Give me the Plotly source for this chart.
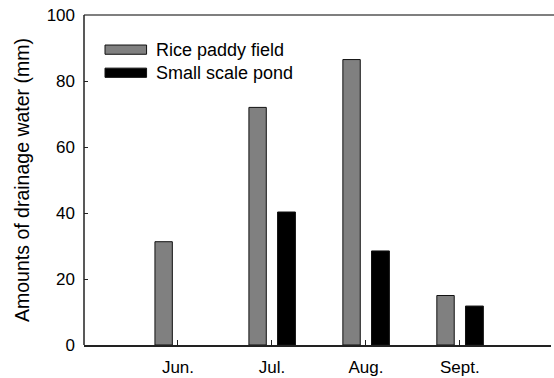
import plotly.graph_objects as go

# Monthly drainage water (mm)
months = ["Jun.", "Jul.", "Aug.", "Sept."]
month_pos = [1, 2, 3, 4]
series_names = ["Rice paddy field", "Small scale pond"]
rice_paddy = [31.3, 72.0, 86.5, 15.0]
small_pond = [0.0, 40.3, 28.5, 11.8]
y_ticks = [0, 20, 40, 60, 80, 100]

fill_colors = ["#808080", "#000000"]
font_family = "Liberation Sans, Arial, sans-serif"


def outline_widths(values):
    # no outline for empty bars so nothing shows on the baseline
    return [0 if v == 0 else 1 for v in values]


fig = go.Figure()
fig.add_trace(go.Bar(
    x=month_pos, y=rice_paddy, name=series_names[0],
    width=0.185, offset=-0.245,
    marker=dict(color=fill_colors[0],
                line=dict(color="#111111", width=outline_widths(rice_paddy))),
    showlegend=False,
))
fig.add_trace(go.Bar(
    x=month_pos, y=small_pond, name=series_names[1],
    width=0.19, offset=0.06,
    marker=dict(color=fill_colors[1],
                line=dict(color="#111111", width=outline_widths(small_pond))),
    showlegend=False,
))

# Legend drawn as wide swatches with text labels
legend_rows = [0.895, 0.825]
for name, color, yc in zip(series_names, fill_colors, legend_rows):
    fig.add_shape(
        type="rect", xref="paper", yref="paper",
        x0=0.045, x1=0.134, y0=yc - 0.014, y1=yc + 0.014,
        fillcolor=color, line=dict(color="#111111", width=1),
    )
    fig.add_annotation(
        x=0.15, y=yc, xref="paper", yref="paper",
        text=name, showarrow=False, xanchor="left", yanchor="middle",
        font=dict(family=font_family, size=18, color="#000000"),
    )

# Frame: top line running out to the figure edge, and the left axis line
fig.add_shape(type="line", xref="paper", yref="paper",
              x0=0, x1=1.01, y0=1, y1=1,
              line=dict(color="#555555", width=1.5))
fig.add_shape(type="line", xref="paper", yref="paper",
              x0=0, x1=0, y0=0, y1=1,
              line=dict(color="#222222", width=1.5))

fig.update_layout(
    width=554, height=378,
    margin=dict(l=84, r=3, t=15, b=33),
    paper_bgcolor="white", plot_bgcolor="white",
    font=dict(family=font_family, size=17, color="#000000"),
    showlegend=False,
    xaxis=dict(
        range=[0, 4.97], tickmode="array", tickvals=month_pos, ticktext=months,
        showline=True, linecolor="#222222", linewidth=1.5, mirror=False,
        ticks="inside", ticklen=5, tickcolor="#222222",
        showgrid=False, zeroline=False, ticklabelstandoff=6,
        automargin=False,
    ),
    yaxis=dict(
        range=[0, 100], tickmode="array", tickvals=y_ticks,
        showline=False, mirror=False,
        ticks="inside", ticklen=4, tickcolor="#222222",
        showgrid=False, zeroline=False, ticklabelstandoff=8,
        automargin=False,
        title=dict(text="Amounts of drainage water (mm)",
                   font=dict(family=font_family, size=19.5), standoff=11),
    ),
)

fig.write_html("out.html")
